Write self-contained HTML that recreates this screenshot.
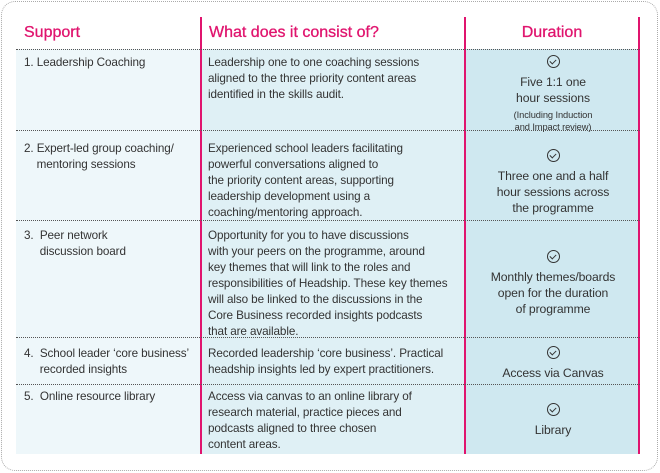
<!DOCTYPE html>
<html><head><meta charset="utf-8"><style>
*{margin:0;padding:0;box-sizing:border-box}
body{width:660px;height:473px;background:#fff;font-family:"Liberation Sans",sans-serif;color:#333;position:relative;overflow:hidden}
.frame{position:absolute;left:1px;top:1px;width:657px;height:470px;border:1.5px dotted #aaa;border-radius:14px}
.bg{position:absolute}
.vl{position:absolute;width:2px;background:#e0146e;top:17px;height:437px}
.hl{position:absolute;left:16px;width:624px;border-top:1.3px dotted #555}
.h{position:absolute;top:24px;font-size:16px;color:#e0146e;-webkit-text-stroke:0.3px #e0146e}
.t{position:absolute;font-size:11.7px;line-height:16px;letter-spacing:-0.1px;color:#333}
.c{text-align:center;font-size:12.2px}
.ck{display:inline-block;width:13px;height:13px;border:1.5px solid #333;border-radius:50%;position:relative;margin-bottom:2px}
.ck:after{content:"";position:absolute;left:3px;top:2px;width:3px;height:5px;border:solid #333;border-width:0 1.5px 1.5px 0;transform:rotate(45deg)}
.sm{font-size:9.3px;line-height:12px}
</style></head><body>
<div class="frame"></div>
<div class="bg" style="left:16px;top:49px;width:185px;height:405px;background:#eef7fa"></div>
<div class="bg" style="left:201px;top:49px;width:265px;height:405px;background:#dff0f5"></div>
<div class="bg" style="left:466px;top:49px;width:174px;height:405px;background:#cfe8f0"></div>
<div class="vl" style="left:200px"></div>
<div class="vl" style="left:464px"></div>
<div class="vl" style="left:638px"></div>
<div class="hl" style="top:49px"></div>
<div class="hl" style="top:130px"></div>
<div class="hl" style="top:220px"></div>
<div class="hl" style="top:337px"></div>
<div class="hl" style="top:384px"></div>
<div class="h" style="left:24px">Support</div>
<div class="h" style="left:209px">What does it consist of?</div>
<div class="h" style="left:464px;width:176px;text-align:center">Duration</div>

<div class="t" style="left:24px;top:55px">1. Leadership Coaching</div>
<div class="t" style="left:208px;top:55px">Leadership one to one coaching sessions<br>aligned to the three priority content areas<br>identified in the skills audit.</div>
<div class="t c" style="left:466px;top:55px;width:174px"><span class="ck"></span><br>Five 1:1 one<br>hour sessions<div class="sm" style="margin-top:3px">(Including Induction<br>and Impact review)</div></div>

<div class="t" style="left:24px;top:141px">2. Expert-led group coaching/<br>&nbsp;&nbsp;&nbsp;&nbsp;mentoring sessions</div>
<div class="t" style="left:208px;top:141px">Experienced school leaders facilitating<br>powerful conversations aligned to<br>the priority content areas, supporting<br>leadership development using a<br>coaching/mentoring approach.</div>
<div class="t c" style="left:466px;top:149px;width:174px"><span class="ck"></span><br>Three one and a half<br>hour sessions across<br>the programme</div>

<div class="t" style="left:24px;top:228px">3.&nbsp; Peer network<br>&nbsp;&nbsp;&nbsp;&nbsp;&nbsp;discussion board</div>
<div class="t" style="left:208px;top:228px">Opportunity for you to have discussions<br>with your peers on the programme, around<br>key themes that will link to the roles and<br>responsibilities of Headship. These key themes<br>will also be linked to the discussions in the<br>Core Business recorded insights podcasts<br>that are available.</div>
<div class="t c" style="left:466px;top:250px;width:174px"><span class="ck"></span><br>Monthly themes/boards<br>open for the duration<br>of programme</div>

<div class="t" style="left:24px;top:346px">4.&nbsp; School leader ‘core business’<br>&nbsp;&nbsp;&nbsp;&nbsp;&nbsp;recorded insights</div>
<div class="t" style="left:208px;top:346px">Recorded leadership ‘core business’. Practical<br>headship insights led by expert practitioners.</div>
<div class="t c" style="left:466px;top:346px;width:174px"><span class="ck"></span><br>Access via Canvas</div>

<div class="t" style="left:24px;top:389px">5.&nbsp; Online resource library</div>
<div class="t" style="left:208px;top:389px">Access via canvas to an online library of<br>research material, practice pieces and<br>podcasts aligned to three chosen<br>content areas.</div>
<div class="t c" style="left:466px;top:403px;width:174px"><span class="ck"></span><br>Library</div>
</body></html>
